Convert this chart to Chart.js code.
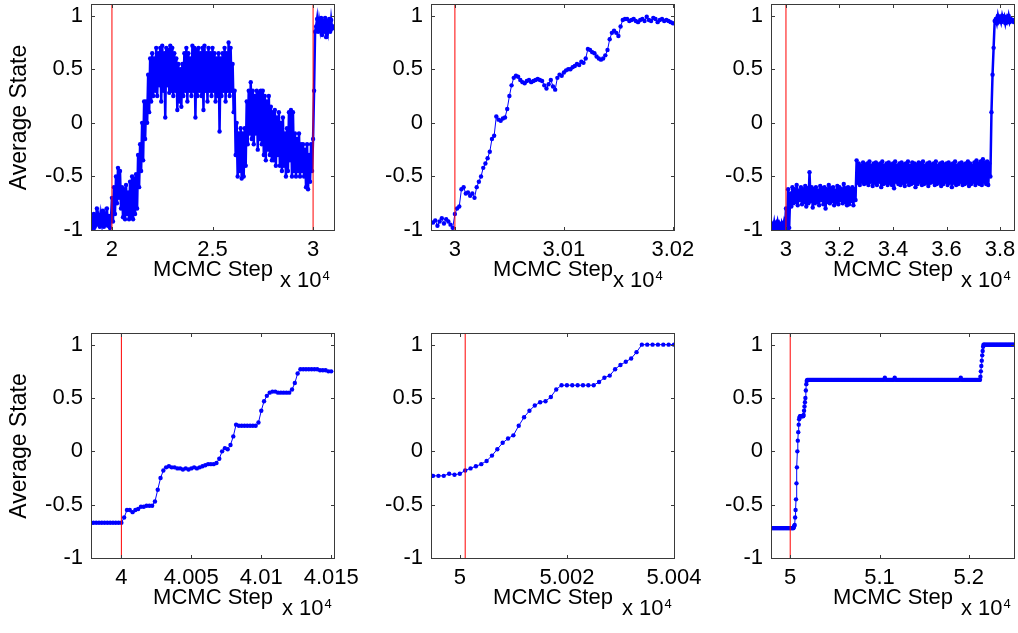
<!DOCTYPE html>
<html><head><meta charset="utf-8">
<script src="https://cdn.jsdelivr.net/npm/chart.js@4.4.1/dist/chart.umd.min.js"></script>
<style>
html,body{margin:0;padding:0;background:#fff;}
#wrap{position:relative;width:1018px;height:633px;overflow:hidden;background:#fff;}
canvas{position:absolute;}
</style></head><body><div id="wrap"></div>
<script>
// ---------- shared axis data ----------
const yRange = [-1, 1.1];
const yTickValues = [-1, -0.5, 0, 0.5, 1];
const yTickLabels = ['-1', '-0.5', '0', '0.5', '1'];
const xTitle = 'MCMC Step';
const yTitle = 'Average State';

// Sampling grids: [first MCMC step, step interval, number of samples]
// ---------- panel 1 (top-left) ----------
const p1Grid = [[19000, 50, 241]];
const p1Values = [
-0.88,-0.96,-0.85,-0.97,-0.90,-0.80,-0.95,-0.88,-0.97,-0.86,
-0.93,-0.82,-0.97,-0.88,-0.95,-0.80,-0.96,-0.87,-0.98,-0.90,
-0.70,-0.92,-0.60,-0.85,-0.50,-0.75,-0.42,-0.70,-0.45,-0.80,
-0.60,-0.88,-0.62,-0.90,-0.58,-0.85,-0.65,-0.90,-0.55,-0.88,
-0.50,-0.90,-0.52,-0.85,-0.48,-0.80,-0.30,-0.60,-0.20,-0.45,
0.00,-0.35,0.20,-0.15,0.20,0.00,0.45,0.10,0.60,0.20,
0.65,0.25,0.60,0.30,0.70,0.25,0.65,0.35,0.70,0.20,
0.72,0.30,0.65,0.05,0.70,0.35,0.68,0.28,0.72,0.30,
0.70,0.25,0.65,0.30,0.60,0.12,0.55,0.20,0.50,0.15,
0.55,0.25,0.65,0.30,0.70,0.20,0.65,0.30,0.60,0.25,
0.72,0.30,0.70,0.05,0.68,0.25,0.70,0.30,0.65,0.25,
0.70,0.12,0.72,0.30,0.65,0.20,0.70,0.30,0.65,0.25,
0.70,0.30,0.65,0.20,0.60,0.25,0.65,-0.08,0.60,0.25,
0.65,0.30,0.70,0.20,0.65,0.30,0.75,0.25,0.70,0.30,
0.55,0.10,0.30,-0.30,0.00,-0.50,-0.10,-0.45,-0.05,-0.52,
-0.10,-0.50,-0.05,-0.40,0.20,-0.20,0.30,-0.10,0.38,-0.15,
0.30,-0.20,0.25,-0.10,0.30,-0.25,0.28,-0.15,0.30,-0.20,
0.30,-0.30,0.25,-0.35,0.20,-0.25,0.25,-0.30,0.15,-0.35,
0.10,-0.35,0.12,-0.40,0.05,-0.30,0.10,-0.40,0.00,-0.45,
0.05,-0.40,-0.10,-0.50,-0.05,-0.45,0.10,-0.35,0.12,-0.50,
0.10,-0.45,-0.10,-0.50,-0.15,-0.45,-0.10,-0.50,-0.20,-0.45,
-0.20,-0.50,-0.25,-0.60,-0.20,-0.62,-0.30,-0.55,-0.20,-0.45,
-0.15,0.30,0.85,0.90,0.97,0.85,0.95,0.88,0.98,0.82,
0.95,0.85,0.98,0.80,0.95,0.87,0.97,0.85,0.96,0.88,
0.90];
const p1Range = [19008, 31040];
const p1XTicks = [20000, 25000, 30000];
const p1XTickLabels = ['2', '2.5', '3'];
const p1Markers = [20000, 30000];

// ---------- panel 2 (top-middle) ----------
const p2Grid = [[29980, 2, 111]];
const p2Values = [
-0.93,-0.91,-0.96,-0.92,-0.89,-0.94,-0.90,-0.92,-0.95,-0.98,
-0.85,-0.80,-0.78,-0.62,-0.60,-0.66,-0.65,-0.68,-0.66,-0.70,
-0.60,-0.55,-0.50,-0.42,-0.38,-0.33,-0.27,-0.15,-0.12,0.06,
0.03,0.02,0.04,0.05,0.13,0.25,0.35,0.42,0.44,0.43,
0.40,0.38,0.37,0.39,0.40,0.38,0.39,0.40,0.41,0.40,
0.39,0.35,0.32,0.36,0.40,0.34,0.31,0.42,0.45,0.44,
0.47,0.49,0.50,0.50,0.52,0.53,0.55,0.54,0.57,0.56,
0.60,0.69,0.68,0.66,0.65,0.62,0.60,0.59,0.60,0.63,
0.68,0.78,0.84,0.86,0.84,0.81,0.90,0.96,0.97,0.97,
0.95,0.96,0.97,0.95,0.94,0.96,0.97,0.95,0.99,0.96,
0.95,0.98,0.97,0.94,0.96,0.97,0.95,0.96,0.95,0.94,
0.93];
const p2Range = [29979, 30201];
const p2XTicks = [30000, 30100, 30200];
const p2XTickLabels = ['3', '3.01', '3.02'];
const p2Markers = [30000];

// ---------- panel 3 (top-right) ----------
const p3Grid = [[29480, 40, 227]];
const p3Values = [
-0.95,-0.99,-0.93,-1.00,-0.96,-0.92,-0.99,-0.95,-1.00,-0.94,-0.98,-0.93,-0.99,
-0.80,-1.00,-0.62,-0.98,-0.66,
-0.78,-0.60,-0.75,-0.62,-0.74,-0.58,-0.77,-0.63,-0.72,-0.60,
-0.76,-0.62,-0.74,-0.59,-0.78,-0.61,-0.75,-0.46,-0.73,-0.60,
-0.79,-0.62,-0.75,-0.60,-0.74,-0.63,-0.77,-0.59,-0.72,-0.61,
-0.76,-0.60,-0.80,-0.62,-0.74,-0.58,-0.75,-0.61,-0.73,-0.60,
-0.77,-0.63,-0.74,-0.59,-0.76,-0.60,-0.72,-0.62,-0.75,-0.57,
-0.74,-0.61,-0.77,-0.60,-0.76,-0.62,-0.73,-0.60,-0.77,-0.62,
-0.72,
-0.35,-0.56,-0.38,-0.58,-0.40,-0.55,-0.37,-0.57,-0.39,-0.56,
-0.38,-0.58,-0.36,-0.55,-0.40,-0.59,-0.38,-0.56,-0.37,-0.58,
-0.39,-0.55,-0.38,-0.60,-0.36,-0.57,-0.40,-0.56,-0.38,-0.58,
-0.37,-0.56,-0.39,-0.58,-0.38,-0.61,-0.36,-0.55,-0.40,-0.57,
-0.38,-0.58,-0.37,-0.56,-0.39,-0.59,-0.38,-0.55,-0.36,-0.58,
-0.40,-0.57,-0.37,-0.56,-0.38,-0.60,-0.39,-0.57,-0.37,-0.55,
-0.38,-0.58,-0.36,-0.57,-0.40,-0.56,-0.38,-0.59,-0.37,-0.56,
-0.39,-0.55,-0.38,-0.58,-0.36,-0.57,-0.40,-0.56,-0.38,-0.59,
-0.37,-0.57,-0.39,-0.55,-0.38,-0.58,-0.37,-0.56,-0.39,-0.60,
-0.38,-0.56,-0.36,-0.58,-0.40,-0.57,-0.38,-0.55,-0.37,-0.58,
-0.39,-0.57,-0.38,-0.56,-0.36,-0.59,-0.38,-0.57,-0.40,-0.55,
-0.37,-0.58,-0.35,-0.56,-0.38,-0.57,-0.36,-0.58,-0.34,-0.55,
-0.37,-0.57,-0.36,-0.58,-0.38,
-0.50,0.10,0.45,0.70,0.95,
0.97,0.93,1.00,0.95,0.98,0.94,1.00,0.96,0.99,0.93,0.98,0.95,1.00,0.94,0.97,0.95,0.96,0.94];
const p3Range = [29478, 38522];
const p3XTicks = [30000, 32000, 34000, 36000, 38000];
const p3XTickLabels = ['3', '3.2', '3.4', '3.6', '3.8'];
const p3Markers = [30000];

// ---------- panel 4 (bottom-left) ----------
const p4Grid = [[39980, 2, 86]];
const p4Values = [
-0.67,-0.67,-0.67,-0.67,-0.67,-0.67,-0.67,-0.67,-0.67,-0.67,-0.67,
-0.62,-0.55,-0.55,-0.57,-0.55,-0.54,-0.52,-0.52,-0.51,-0.51,
-0.51,-0.47,-0.36,-0.25,-0.18,-0.15,-0.14,-0.15,-0.15,-0.16,
-0.16,-0.17,-0.16,-0.17,-0.16,-0.15,-0.16,-0.15,-0.14,-0.13,
-0.12,-0.12,-0.12,-0.11,-0.07,0.00,0.03,0.02,0.06,0.14,
0.25,0.24,0.24,0.24,0.24,0.24,0.24,0.24,0.27,0.38,
0.47,0.52,0.55,0.56,0.56,0.55,0.55,0.55,0.55,0.55,
0.58,0.64,0.73,0.77,0.77,0.77,0.77,0.77,0.77,0.77,
0.76,0.76,0.76,0.75,0.75];
const p4Range = [39979, 40152];
const p4XTicks = [40000, 40050, 40100, 40150];
const p4XTickLabels = ['4', '4.005', '4.01', '4.015'];
const p4Markers = [40000];

// ---------- panel 5 (bottom-middle) ----------
const p5Grid = [[49995, 1, 46]];
const p5Values = [
-0.23,-0.23,-0.23,-0.21,-0.22,-0.21,-0.18,-0.16,-0.14,-0.12,
-0.09,-0.04,0.02,0.08,0.12,0.15,0.24,0.32,0.38,0.43,
0.46,0.47,0.51,0.58,0.62,0.62,0.62,0.62,0.62,0.62,
0.62,0.65,0.69,0.71,0.77,0.81,0.84,0.87,0.93,1.00,
1.00,1.00,1.00,1.00,1.00,1.00];
const p5Range = [49994.8, 50040];
const p5XTicks = [50000, 50020, 50040];
const p5XTickLabels = ['5', '5.002', '5.004'];
const p5Markers = [50001];

// ---------- panel 6 (bottom-right) ----------
const p6Grid = [[49800, 10, 24], [50035, 5, 31], [50190, 10, 194], [52125, 5, 9], [52170, 10, 34]];
const p6Values = [
-0.72,-0.72,-0.72,-0.72,-0.72,-0.72,-0.72,-0.72,-0.72,-0.72,-0.72,-0.72,
-0.72,-0.72,-0.72,-0.72,-0.72,-0.72,-0.72,-0.72,-0.72,-0.72,-0.72,-0.72,
-0.72,-0.71,-0.70,-0.69,-0.62,-0.55,-0.45,-0.30,-0.15,0.00,
0.10,0.18,0.25,0.30,0.32,0.33,0.33,0.33,0.33,0.33,
0.33,0.33,0.33,0.34,0.38,0.42,0.46,0.50,0.57,0.63,0.66,
0.67,0.67,0.67,0.67,0.67,0.67,0.67,0.67,0.67,0.67,0.67,0.67,0.67,0.67,0.67,0.67,0.67,0.67,0.67,0.67,
0.67,0.67,0.67,0.67,0.67,0.67,0.67,0.67,0.67,0.67,0.67,0.67,0.67,0.67,0.67,0.67,0.67,0.67,0.67,0.67,
0.67,0.67,0.67,0.67,0.67,0.67,0.67,0.67,0.67,0.67,0.67,0.67,0.67,0.67,0.67,0.67,0.67,0.67,0.67,0.67,
0.67,0.67,0.67,0.67,0.67,0.67,0.67,0.67,0.67,0.67,0.67,0.67,0.67,0.67,0.67,0.67,0.67,0.67,0.67,0.67,
0.67,0.67,0.67,0.67,0.67,0.67,0.67,0.69,0.67,0.67,0.67,0.67,0.67,0.67,0.67,0.67,0.67,0.67,0.69,0.67,
0.67,0.67,0.67,0.67,0.67,0.67,0.67,0.67,0.67,0.67,0.67,0.67,0.67,0.67,0.67,0.67,0.67,0.67,0.67,0.67,
0.67,0.67,0.67,0.67,0.67,0.67,0.67,0.67,0.67,0.67,0.67,0.67,0.67,0.67,0.67,0.67,0.67,0.67,0.67,0.67,
0.67,0.67,0.67,0.67,0.67,0.67,0.67,0.67,0.67,0.67,0.67,0.67,0.67,0.67,0.67,0.67,0.67,0.67,0.67,0.67,
0.67,0.67,0.67,0.67,0.67,0.67,0.67,0.67,0.67,0.67,0.67,0.67,0.69,0.67,0.67,0.67,0.67,0.67,0.67,0.67,
0.67,0.67,0.67,0.67,0.67,0.67,0.67,0.67,0.67,0.67,0.67,0.67,0.67,0.67,
0.67,0.70,0.75,0.80,0.85,0.90,0.94,0.98,1.00,
1.00,1.00,1.00,1.00,1.00,1.00,1.00,1.00,1.00,1.00,1.00,1.00,1.00,1.00,1.00,1.00,1.00,
1.00,1.00,1.00,1.00,1.00,1.00,1.00,1.00,1.00,1.00,1.00,1.00,1.00,1.00,1.00,1.00,1.00];
const p6Range = [49796, 52506];
const p6XTicks = [50000, 51000, 52000];
const p6XTickLabels = ['5', '5.1', '5.2'];
const p6Markers = [50000];

// ---------- layout (positions / styles) ----------
const FONT = "'Liberation Sans', Arial, Helvetica, sans-serif";
Chart.defaults.font.family = FONT;
Chart.defaults.font.size = 22;
Chart.defaults.color = '#000';

const panels = [
  {grid:p1Grid, values:p1Values, range:p1Range, xTicks:p1XTicks, xLabels:p1XTickLabels, markers:p1Markers, left:92,  top:5,   right:334,  bottom:230, showY:true,  expOff:54, lw:2.5},
  {grid:p2Grid, values:p2Values, range:p2Range, xTicks:p2XTicks, xLabels:p2XTickLabels, markers:p2Markers, left:432, top:5,   right:674,  bottom:230, showY:false, expOff:61, lw:1},
  {grid:p3Grid, values:p3Values, range:p3Range, xTicks:p3XTicks, xLabels:p3XTickLabels, markers:p3Markers, left:772, top:5,   right:1014, bottom:230, showY:false, expOff:53, lw:2.5},
  {grid:p4Grid, values:p4Values, range:p4Range, xTicks:p4XTicks, xLabels:p4XTickLabels, markers:p4Markers, left:92,  top:334, right:334,  bottom:558, showY:true,  expOff:52, lw:1},
  {grid:p5Grid, values:p5Values, range:p5Range, xTicks:p5XTicks, xLabels:p5XTickLabels, markers:p5Markers, left:432, top:334, right:674,  bottom:558, showY:false, expOff:52, lw:1},
  {grid:p6Grid, values:p6Values, range:p6Range, xTicks:p6XTicks, xLabels:p6XTickLabels, markers:p6Markers, left:772, top:334, right:1014, bottom:558, showY:false, expOff:53, lw:1}
];

const AXW = 92, PADT = 5, PADR = 40, AXH = 75;
const wrap = document.getElementById('wrap');

function stepsOf(grid) {
  const xs = [];
  grid.forEach(([s0, d, n]) => { for (let k = 0; k < n; k++) xs.push(s0 + k * d); });
  return xs;
}

function framePlugin(p) {
  return {
    id: 'frame',
    afterDraw(chart) {
      const {ctx, chartArea: a, scales: {x, y}} = chart;
      ctx.save();
      ctx.strokeStyle = '#3a3a3a';
      ctx.lineWidth = 1;
      ctx.strokeRect(a.left - 0.5, a.top - 0.5, a.right - a.left + 1, a.bottom - a.top + 1);
      ctx.beginPath();
      const TL = 3;
      x.ticks.forEach(t => {
        const px = Math.round(x.getPixelForValue(t.value)) + 0.5;
        ctx.moveTo(px, a.bottom); ctx.lineTo(px, a.bottom - TL);
        ctx.moveTo(px, a.top); ctx.lineTo(px, a.top + TL);
      });
      y.ticks.forEach(t => {
        const py = Math.round(y.getPixelForValue(t.value)) + 0.5;
        ctx.moveTo(a.left, py); ctx.lineTo(a.left + TL, py);
        ctx.moveTo(a.right, py); ctx.lineTo(a.right - TL, py);
      });
      ctx.stroke();
      // exponent label
      ctx.fillStyle = '#000';
      ctx.textBaseline = 'alphabetic';
      ctx.textAlign = 'left';
      ctx.font = '22px ' + FONT;
      const ex = a.right - p.expOff, ey = a.bottom + 57;
      ctx.fillText('x 10', ex, ey);
      const w = ctx.measureText('x 10').width;
      ctx.font = '13px ' + FONT;
      ctx.fillText('4', ex + w + 1, ey - 7);
      ctx.restore();
    }
  };
}

function makePanel(p) {
  const W = p.right - p.left, H = p.bottom - p.top;
  const cw = AXW + W + PADR, ch = PADT + H + AXH;
  const c = document.createElement('canvas');
  c.width = cw; c.height = ch;
  c.style.left = (p.left - AXW) + 'px';
  c.style.top = (p.top - PADT) + 'px';
  c.style.width = cw + 'px'; c.style.height = ch + 'px';
  wrap.appendChild(c);

  const xs = stepsOf(p.grid);
  const datasets = [];
  p.markers.forEach(m => datasets.push({
    data: [{x: m, y: yRange[0]}, {x: m, y: yRange[1]}],
    borderColor: '#ff0000', borderWidth: 1, pointRadius: 0, order: 0
  }));
  datasets.push({
    data: p.values.map((v, i) => ({x: xs[i], y: v})),
    borderColor: '#0000ff', backgroundColor: '#0000ff', borderWidth: p.lw,
    pointRadius: 2.2, pointBorderWidth: 0, pointBackgroundColor: '#0000ff', order: 1
  });

  new Chart(c, {
    type: 'line',
    data: {datasets},
    options: {
      responsive: false, animation: false, devicePixelRatio: 1,
      layout: {padding: {left: 0, top: PADT, right: PADR, bottom: 0}},
      plugins: {legend: {display: false}, tooltip: {enabled: false}},
      elements: {line: {tension: 0}},
      scales: {
        x: {
          type: 'linear', min: p.range[0], max: p.range[1],
          afterBuildTicks: s => { s.ticks = p.xTicks.map(v => ({value: v})); },
          afterFit: s => { s.height = AXH; s.paddingLeft = 0; s.paddingRight = 0; },
          ticks: {autoSkip: false, maxRotation: 0, minRotation: 0, padding: 7, color: '#000',
                  callback: (v, i) => p.xLabels[i]},
          grid: {display: false, drawTicks: false}, border: {display: false},
          title: {display: true, text: xTitle, color: '#000', padding: {top: 0, bottom: 22}}
        },
        y: {
          type: 'linear', min: yRange[0], max: yRange[1],
          afterBuildTicks: s => { s.ticks = yTickValues.map(v => ({value: v})); },
          afterFit: s => { s.width = AXW; s.paddingTop = 0; s.paddingBottom = 0; },
          ticks: {autoSkip: false, padding: 9, color: '#000',
                  callback: (v, i) => yTickLabels[i]},
          grid: {display: false, drawTicks: false}, border: {display: false},
          title: {display: p.showY, text: yTitle, color: '#000', font: {size: 23}, padding: {top: 6, bottom: 0}}
        }
      }
    },
    plugins: [framePlugin(p)]
  });
}

panels.forEach(makePanel);
</script></body></html>
